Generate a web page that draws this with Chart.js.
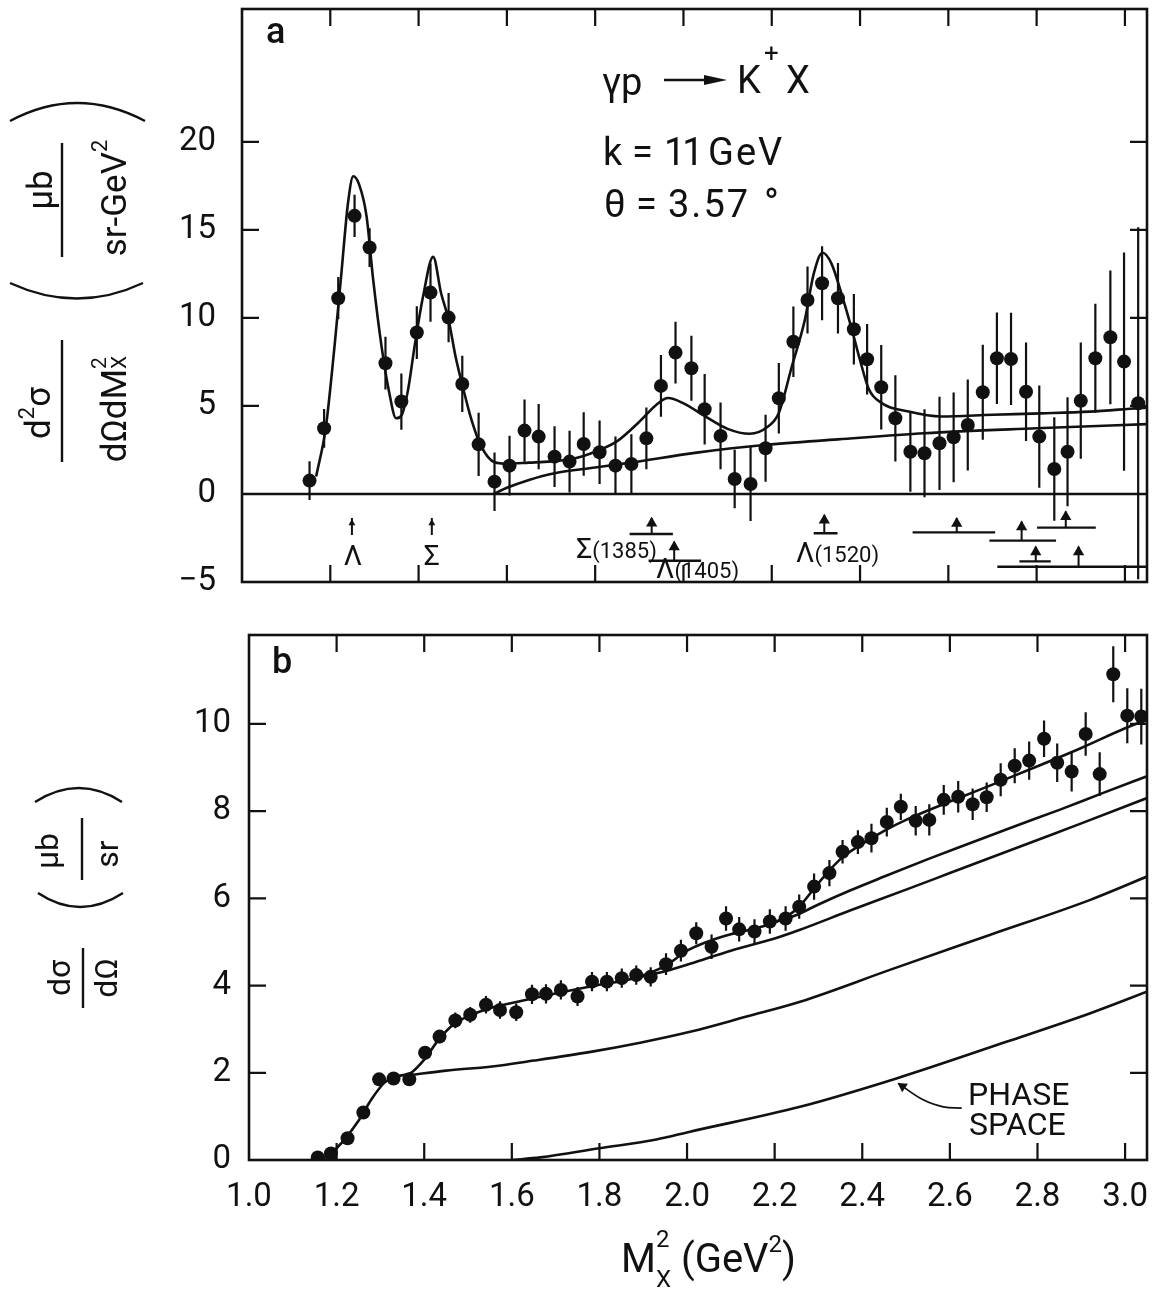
<!DOCTYPE html>
<html><head><meta charset="utf-8">
<script src="https://cdn.jsdelivr.net/npm/chart.js@4/dist/chart.umd.min.js"></script>
<style>
html,body{margin:0;padding:0;background:#fff;}
body{width:1156px;height:1292px;position:relative;overflow:hidden;}
#ca{position:absolute;left:0;top:0;}
#cb{position:absolute;left:0;top:600px;}
</style></head><body>
<canvas id="ca" width="1156" height="610"></canvas>
<canvas id="cb" width="1156" height="692"></canvas>
<script>
// ---------------- shared axis data ----------------
const X_MIN = 1.0, X_MAX = 3.05;
const xTicks = [1.0, 1.2, 1.4, 1.6, 1.8, 2.0, 2.2, 2.4, 2.6, 2.8, 3.0];
const aYTicks = [-5, 0, 5, 10, 15, 20];
const bYTicks = [0, 2, 4, 6, 8, 10];

// ---------------- panel a: d2sigma/dOmega dMx2 ----------------
const aX = [1.153,1.186,1.218,1.255,1.289,1.325,1.361,1.396,1.427,1.468,1.499,1.536,1.572,1.606,1.640,1.672,1.708,1.742,1.774,1.810,1.846,1.882,1.916,1.949,1.982,2.018,2.048,2.084,2.116,2.152,2.186,2.216,2.249,2.281,2.314,2.350,2.386,2.416,2.448,2.480,2.514,2.546,2.580,2.612,2.644,2.678,2.710,2.742,2.776,2.806,2.840,2.870,2.900,2.933,2.967,2.998,3.030];
const aY = [0.76,3.73,11.12,15.8,14.0,7.43,5.25,9.17,11.44,10.02,6.25,2.82,0.70,1.61,3.60,3.26,2.12,1.84,2.84,2.37,1.61,1.70,3.16,6.14,8.03,7.14,4.81,3.30,0.85,0.57,2.60,5.44,8.65,11.02,11.97,11.12,9.36,7.65,6.06,4.30,2.40,2.31,2.88,3.22,3.92,5.78,7.71,7.67,5.81,3.26,1.42,2.40,5.30,7.71,8.90,7.52,5.15];
const aErr = [1.1,1.1,1.2,1.2,1.1,1.5,1.6,1.5,1.65,1.4,1.6,1.8,1.66,1.7,1.77,1.85,1.73,1.75,1.8,1.8,1.65,1.7,1.75,1.75,1.75,1.85,2.0,1.9,1.66,2.1,1.9,2.0,2.0,1.9,2.1,2.0,2.0,2.0,2.4,2.45,2.27,2.5,2.65,2.55,2.58,2.7,2.6,2.62,2.8,2.9,2.94,3.1,3.3,3.1,3.8,6.2,10.0];
const aFitX = [1.168,1.19,1.21,1.225,1.24,1.252,1.265,1.282,1.297,1.316,1.334,1.349,1.362,1.376,1.391,1.41,1.433,1.451,1.468,1.483,1.499,1.52,1.542,1.572,1.60,1.65,1.70,1.75,1.80,1.85,1.90,1.94,1.965,2.00,2.05,2.10,2.15,2.19,2.216,2.245,2.275,2.295,2.315,2.335,2.36,2.382,2.40,2.42,2.45,2.51,2.583,2.70,2.81,2.92,3.03,3.05];
const aFitY = [1.0,3.8,8.5,12.5,16.5,18.05,17.6,15.8,12.2,8.4,5.7,4.3,4.5,5.9,8.4,11.2,13.47,11.4,9.9,7.9,6.2,4.2,2.7,1.8,1.72,1.78,1.85,2.0,2.4,3.0,4.1,5.1,5.45,5.15,4.4,3.7,3.42,3.8,4.6,7.2,9.9,12.5,13.7,13.1,11.2,9.3,7.6,5.95,5.15,4.68,4.4,4.5,4.58,4.68,4.87,4.9];
const aBgX = [1.57,1.60,1.65,1.708,1.80,1.88,2.03,2.183,2.35,2.546,2.80,3.05];
const aBgY = [0.0,0.35,0.8,1.18,1.5,1.78,2.35,2.78,3.1,3.45,3.73,3.97];
// resonance markers (mass^2 positions, arrow tip / tail, width bars)
const resX    = [1.249, 1.430, 1.928, 1.979, 2.319, 2.619, 2.766, 2.866, 2.798, 2.895];
const resTip  = [-1.36, -1.36, -1.36, -2.71, -1.19, -1.37, -1.57, -1.00, -3.00, -3.00];
const resTail = [-2.33, -2.33, -2.27, -3.79, -2.23, -2.18, -2.65, -1.91, -3.83, -4.13];
const resL    = [null, null, 1.878, 1.921, 2.295, 2.519, 2.693, 2.801, 2.761, 2.711];
const resR    = [null, null, 1.976, 2.040, 2.349, 2.706, 2.844, 2.934, 2.832, 3.050];
const resNames = ['Λ', 'Σ', 'Σ|(1385)', 'Λ|(1405)', 'Λ|(1520)'];
const resNameX = [1.251, 1.430, 1.757, 1.938, 2.255];
const resNameY = [-4.03, -4.03, -3.64, -4.80, -3.86];

// ---------------- panel b: dsigma/dOmega ----------------
const bX = [1.157,1.187,1.225,1.261,1.297,1.330,1.366,1.402,1.435,1.471,1.505,1.541,1.573,1.610,1.646,1.678,1.712,1.750,1.783,1.817,1.851,1.884,1.917,1.952,1.986,2.021,2.056,2.089,2.119,2.154,2.189,2.225,2.256,2.290,2.325,2.355,2.390,2.421,2.456,2.488,2.522,2.553,2.586,2.619,2.652,2.684,2.716,2.748,2.781,2.815,2.845,2.878,2.910,2.942,2.973,3.005,3.037];
const bY = [0.06,0.15,0.50,1.09,1.85,1.87,1.85,2.46,2.83,3.20,3.33,3.56,3.44,3.39,3.80,3.81,3.90,3.75,4.09,4.09,4.17,4.24,4.20,4.49,4.80,5.20,4.89,5.54,5.29,5.24,5.47,5.54,5.81,6.27,6.58,7.07,7.29,7.38,7.75,8.10,7.78,7.80,8.26,8.33,8.16,8.32,8.72,9.04,9.16,9.66,9.11,8.91,9.77,8.85,11.14,10.19,10.17];
const bErr = [0.08,0.08,0.1,0.1,0.12,0.12,0.12,0.15,0.15,0.18,0.18,0.2,0.2,0.2,0.22,0.22,0.22,0.22,0.22,0.22,0.22,0.22,0.22,0.25,0.25,0.25,0.28,0.28,0.28,0.28,0.28,0.28,0.28,0.3,0.3,0.27,0.27,0.33,0.33,0.3,0.34,0.36,0.34,0.36,0.36,0.34,0.38,0.4,0.44,0.42,0.44,0.46,0.5,0.5,0.64,0.63,0.64];
const bFitX = [1.165,1.20,1.25,1.28,1.31,1.34,1.37,1.40,1.43,1.46,1.50,1.55,1.60,1.70,1.80,1.88,1.95,2.00,2.05,2.10,2.15,2.20,2.25,2.30,2.35,2.40,2.45,2.50,2.60,2.70,2.80,2.90,3.00,3.05];
const bFitY = [0.0,0.27,0.9,1.4,1.78,1.92,2.0,2.3,2.72,3.05,3.3,3.48,3.6,3.82,4.02,4.17,4.45,4.8,5.02,5.18,5.3,5.45,5.75,6.35,6.9,7.25,7.55,7.8,8.22,8.62,9.03,9.45,9.9,10.1];
const bL2X = [2.20,2.25,2.30,2.372,2.45,2.55,2.65,2.75,2.85,2.95,3.05];
const bL2Y = [5.45,5.62,5.86,6.18,6.5,6.9,7.28,7.66,8.03,8.42,8.8];
const bL3X = [1.88,1.95,2.007,2.10,2.20,2.258,2.372,2.50,2.60,2.70,2.80,2.90,3.05];
const bL3Y = [4.17,4.33,4.5,4.8,5.08,5.28,5.72,6.2,6.58,6.96,7.34,7.72,8.3];
const bL4X = [1.368,1.45,1.55,1.65,1.78,1.893,2.007,2.136,2.258,2.463,2.691,2.919,3.05];
const bL4Y = [1.95,2.05,2.14,2.28,2.48,2.69,2.94,3.29,3.63,4.36,5.16,5.96,6.5];
const bPsX = [1.60,1.665,1.80,1.93,2.007,2.258,2.478,2.729,2.919,3.05];
const bPsY = [0.0,0.06,0.27,0.47,0.65,1.22,1.87,2.71,3.36,3.86];
// pointer of the "PHASE SPACE" label (data coordinates)
const psPtrX = [2.482, 2.539, 2.585, 2.627];
const psPtrY = [1.76, 1.38, 1.22, 1.19];

// ---------------- styling ----------------
const INK = '#111';
const FAM = 'Roboto, "Liberation Sans", "DejaVu Sans", sans-serif';
const WT = 400;
const F = (s, w) => `${w || WT} ${s}px ${FAM}`;
Chart.defaults.font.family = FAM;
Chart.defaults.color = INK;

const pairs = (xs, ys) => xs.map((x, i) => ({x, y: ys[i]}));
function errSegs(xs, ys, es) {
  const out = [];
  xs.forEach((x, i) => { out.push({x, y: ys[i] - es[i]}, {x, y: ys[i] + es[i]}, {x, y: null}); });
  return out;
}
const curve = (data, extra) => Object.assign({data, showLine: true, borderColor: INK, borderWidth: 2.6,
  pointRadius: 0, fill: false, cubicInterpolationMode: 'monotone', spanGaps: false}, extra || {});
const segs = (data, w) => ({data, showLine: true, borderColor: INK, borderWidth: w, pointRadius: 0,
  fill: false, tension: 0, spanGaps: false});
const dots = (data, r) => ({data, showLine: false, pointRadius: r, pointHoverRadius: r,
  pointBackgroundColor: INK, pointBorderColor: INK, pointBorderWidth: 0});

// text helpers
function pw(ctx, p) {
  ctx.font = F(p.s, p.w);
  ctx.letterSpacing = (p.ls || 0) + 'px';
  if (p.sup !== undefined) return Math.max(ctx.measureText(p.sup).width, ctx.measureText(p.sub).width);
  return ctx.measureText(p.t).width;
}
function seq(ctx, x, y, parts, align) {
  let w = 0; parts.forEach(p => w += pw(ctx, p) + (p.g || 0));
  let cx = align === 'center' ? x - w / 2 : align === 'right' ? x - w : x;
  ctx.textAlign = 'left'; ctx.textBaseline = 'alphabetic'; ctx.fillStyle = INK;
  for (const p of parts) {
    ctx.font = F(p.s, p.w);
    ctx.letterSpacing = (p.ls || 0) + 'px';
    if (p.sup !== undefined) { ctx.fillText(p.sup, cx, y + p.supDy); ctx.fillText(p.sub, cx, y + p.subDy); }
    else ctx.fillText(p.t, cx, y + (p.dy || 0));
    cx += pw(ctx, p) + (p.g || 0);
  }
  ctx.letterSpacing = '0px';
  return w;
}
function rotated(ctx, cx, cy, fn) { ctx.save(); ctx.translate(cx, cy); ctx.rotate(-Math.PI / 2); fn(); ctx.restore(); }
function line(ctx, x0, y0, x1, y1, w) { ctx.lineWidth = w; ctx.beginPath(); ctx.moveTo(x0, y0); ctx.lineTo(x1, y1); ctx.stroke(); }
function arc(ctx, x0, y0, x1, y1, qx, qy) { ctx.lineWidth = 2.4; ctx.beginPath(); ctx.moveTo(x0, y0); ctx.quadraticCurveTo(qx, qy, x1, y1); ctx.stroke(); }

function frame(chart, yt) {
  const ctx = chart.ctx, a = chart.chartArea, xs = chart.scales.x, ys = chart.scales.y;
  ctx.save();
  ctx.strokeStyle = INK; ctx.lineWidth = 2.6;
  ctx.strokeRect(a.left, a.top, a.right - a.left, a.bottom - a.top);
  const L = 17;
  ctx.beginPath();
  for (const v of xTicks) {
    const p = xs.getPixelForValue(v);
    if (p <= a.left + 2 || p >= a.right - 2) continue;
    ctx.moveTo(p, a.top); ctx.lineTo(p, a.top + L);
    ctx.moveTo(p, a.bottom); ctx.lineTo(p, a.bottom - L);
  }
  for (const v of yt) {
    const p = ys.getPixelForValue(v);
    if (p <= a.top + 2 || p >= a.bottom - 2) continue;
    ctx.moveTo(a.left, p); ctx.lineTo(a.left + L, p);
    ctx.moveTo(a.right, p); ctx.lineTo(a.right - L, p);
  }
  ctx.lineWidth = 2.2; ctx.stroke();
  ctx.restore();
}

function zeroPad(s) { s.paddingTop = 0; s.paddingBottom = 0; s.paddingLeft = 0; s.paddingRight = 0; }
function yScale(min, max, ticks, width, pad) {
  return {
    type: 'linear', min, max, position: 'left',
    grid: {display: false, drawTicks: false}, border: {display: false},
    afterBuildTicks: s => { s.ticks = ticks.map(v => ({value: v})); },
    afterFit: s => { s.width = width; zeroPad(s); },
    ticks: {color: INK, font: {family: FAM, size: 33, weight: WT}, padding: pad, autoSkip: false,
      callback: v => (v < 0 ? '−' + Math.abs(v) : String(v))}
  };
}

// ---------------- chart a ----------------
const resStems = [], resBars = [], resHeads = [];
resX.forEach((x, i) => {
  resStems.push({x, y: resTail[i]}, {x, y: resTip[i]}, {x, y: null});
  if (resL[i] !== null) resBars.push({x: resL[i], y: resTail[i]}, {x: resR[i], y: resTail[i]}, {x: resL[i], y: null});
  resHeads.push({x, y: resTip[i] - 0.3});
});

const plugA = {
  id: 'plugA',
  afterDraw(chart) {
    frame(chart, aYTicks);
    const ctx = chart.ctx, xs = chart.scales.x, ys = chart.scales.y;
    ctx.save(); ctx.fillStyle = INK; ctx.strokeStyle = INK;
    // resonance labels
    resNames.forEach((n, i) => {
      const [a, b] = n.split('|');
      const parts = [{t: a, s: 28}];
      if (b) parts.push({t: b, s: 22});
      seq(ctx, xs.getPixelForValue(resNameX[i]), ys.getPixelForValue(resNameY[i]), parts, b ? 'left' : 'center');
    });
    // panel letter
    seq(ctx, 266, 43, [{t: 'a', s: 36, w: 500}]);
    // reaction
    seq(ctx, 602, 95, [{t: 'γp', s: 38}]);
    line(ctx, 664, 80, 712, 80, 2.4);
    ctx.beginPath(); ctx.moveTo(727, 80); ctx.lineTo(704, 75); ctx.lineTo(704, 85); ctx.closePath(); ctx.fill();
    seq(ctx, 737, 93, [{t: 'K', s: 38}]);
    seq(ctx, 764, 62, [{t: '+', s: 26}]);
    seq(ctx, 786, 93, [{t: 'X', s: 38}]);
    seq(ctx, 603, 165, [{t: 'k', s: 38}]);
    seq(ctx, 632, 165, [{t: '=', s: 38}]);
    seq(ctx, 664, 165, [{t: '11', s: 38, ls: -3}]);
    seq(ctx, 708, 165, [{t: 'GeV', s: 38, ls: 2}]);
    seq(ctx, 604, 217, [{t: 'θ', s: 38}]);
    seq(ctx, 636, 217, [{t: '=', s: 38}]);
    seq(ctx, 668, 217, [{t: '3.57', s: 38, ls: 2}]);
    seq(ctx, 764, 217, [{t: '°', s: 40}]);
    // y title: fraction d2sigma / dOmega dMx2
    rotated(ctx, 62, 401, () => {
      line(ctx, -61, 0, 61, 0, 2.4);
      seq(ctx, -12, -12, [{t: 'd', s: 35}, {t: '2', s: 22, dy: -16}, {t: 'σ', s: 35}], 'center');
      seq(ctx, -8, 64, [{t: 'dΩdM', s: 35}, {sup: '2', sub: 'X', s: 21, supDy: -20, subDy: 0}], 'center');
    });
    rotated(ctx, 62, 200, () => {
      line(ctx, -57, 0, 57, 0, 2.4);
      seq(ctx, 10, -10, [{t: 'μb', s: 35}], 'center');
      seq(ctx, 2, 64, [{t: 'sr-GeV', s: 35}, {t: '2', s: 22, dy: -19}], 'center');
    });
    arc(ctx, 10, 121, 145, 121, 77, 85);
    arc(ctx, 10, 283, 143, 283, 77, 314);
    ctx.restore();
  }
};

new Chart(document.getElementById('ca'), {
  type: 'line',
  data: {datasets: [
    segs([{x: X_MIN, y: 0}, {x: X_MAX, y: 0}], 2.4),
    curve(pairs(aBgX, aBgY)),
    curve(pairs(aFitX, aFitY)),
    segs(errSegs(aX, aY, aErr), 2.2),
    dots(pairs(aX, aY), 7),
    Object.assign(segs(resStems, 2.2), {borderWidth: 2}),
    segs(resBars, 2.4),
    {data: resHeads, showLine: false, pointStyle: 'triangle', pointBackgroundColor: INK, pointBorderColor: INK,
      pointBorderWidth: 0, pointRadius: ctx => (ctx.dataIndex < 2 ? 4 : 6.5)}
  ]},
  options: {
    responsive: false, animation: false, devicePixelRatio: 1, events: [],
    layout: {padding: {left: 0, right: 9, top: 9, bottom: 28}, autoPadding: false},
    plugins: {legend: {display: false}, tooltip: {enabled: false}},
    scales: {
      x: {type: 'linear', min: X_MIN, max: X_MAX, grid: {display: false, drawTicks: false},
        border: {display: false}, ticks: {display: false}, afterFit: s => { s.height = 0; zeroPad(s); }},
      y: yScale(-5, 27.55, aYTicks, 242, 26)
    }
  },
  plugins: [plugA]
});

// ---------------- chart b ----------------
const OB = 600; // canvas b page offset
const plugB = {
  id: 'plugB',
  afterDraw(chart) {
    frame(chart, bYTicks);
    const ctx = chart.ctx;
    ctx.save(); ctx.fillStyle = INK; ctx.strokeStyle = INK;
    seq(ctx, 272, 673 - OB, [{t: 'b', s: 36, w: 500}]);
    seq(ctx, 968, 1105 - OB, [{t: 'PHASE', s: 32}]);
    seq(ctx, 969, 1135 - OB, [{t: 'SPACE', s: 32}]);
    // x title
    seq(ctx, 621, 1272 - OB, [{t: 'M', s: 40}, {sup: '2', sub: 'X', s: 24, supDy: -25, subDy: 15, g: 10},
      {t: '(GeV', s: 40}, {t: '2', s: 24, dy: -20}, {t: ')', s: 40}]);
    // y title
    rotated(ctx, 83, 978 - OB, () => {
      line(ctx, -30, 0, 30, 0, 2.4);
      seq(ctx, 0, -13, [{t: 'dσ', s: 32}], 'center');
      seq(ctx, 0, 34, [{t: 'dΩ', s: 32}], 'center');
    });
    rotated(ctx, 82, 849 - OB, () => {
      line(ctx, -31, 0, 31, 0, 2.4);
      seq(ctx, -2, -24, [{t: 'μb', s: 32}], 'center');
      seq(ctx, -5, 36, [{t: 'sr', s: 32}], 'center');
    });
    arc(ctx, 35, 802 - OB, 122, 802 - OB, 79, 774 - OB);
    arc(ctx, 38, 893 - OB, 123, 893 - OB, 80, 921 - OB);
    ctx.restore();
  }
};

new Chart(document.getElementById('cb'), {
  type: 'line',
  data: {datasets: [
    curve(pairs(bPsX, bPsY)),
    curve(pairs(bL4X, bL4Y)),
    curve(pairs(bL3X, bL3Y)),
    curve(pairs(bL2X, bL2Y)),
    curve(pairs(bFitX, bFitY)),
    segs(errSegs(bX, bY, bErr), 2.2),
    dots(pairs(bX, bY), 7),
    curve(pairs(psPtrX, psPtrY), {borderWidth: 1.8, cubicInterpolationMode: 'default', tension: 0.4}),
    {data: [{x: 2.492, y: 1.69}], showLine: false, pointStyle: 'triangle', rotation: -56, pointRadius: 6,
      pointBackgroundColor: INK, pointBorderColor: INK, pointBorderWidth: 0}
  ]},
  options: {
    responsive: false, animation: false, devicePixelRatio: 1, events: [],
    layout: {padding: {left: 0, right: 9, top: 35, bottom: 72}, autoPadding: false},
    plugins: {legend: {display: false}, tooltip: {enabled: false}},
    scales: {
      x: {type: 'linear', min: X_MIN, max: X_MAX, position: 'bottom',
        grid: {display: false, drawTicks: false}, border: {display: false},
        afterBuildTicks: s => { s.ticks = xTicks.map(v => ({value: v})); },
        afterFit: s => { s.height = 60; zeroPad(s); },
        ticks: {color: INK, font: {family: FAM, size: 33, weight: WT}, padding: 18, autoSkip: false,
          maxRotation: 0, callback: v => Number(v).toFixed(1)}},
      y: yScale(0, 12.04, bYTicks, 249, 18)
    }
  },
  plugins: [plugB]
});
</script>
</body></html>
